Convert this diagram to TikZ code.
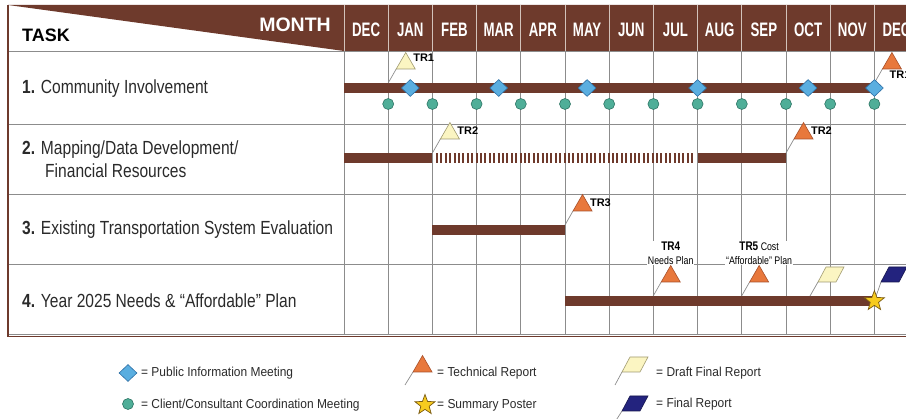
\documentclass[tikz,border=0pt]{standalone}
\usepackage{fontspec}
\setmainfont{Liberation Sans}
\newfontfamily\taskfont[FakeStretch=0.82]{Liberation Sans}
\newfontfamily\monthfont[FakeStretch=0.68]{Liberation Sans}
\newfontfamily\notefont[FakeStretch=0.8]{Liberation Sans}
\newfontfamily\keyfont[FakeStretch=0.92]{Liberation Sans}
\usetikzlibrary{shapes.geometric,positioning}

\definecolor{barbrown}{HTML}{6E3A2C}
\definecolor{gridgray}{HTML}{8C8C8C}
\definecolor{headsep}{HTML}{D2C2BA}
\definecolor{pifill}{HTML}{5AAEE0}
\definecolor{piedge}{HTML}{2D6FA5}
\definecolor{ccfill}{HTML}{4FAE98}
\definecolor{ccedge}{HTML}{2E7565}
\definecolor{trfill}{HTML}{E8783C}
\definecolor{tredge}{HTML}{A8502A}
\definecolor{paleyel}{HTML}{FBF5C2}
\definecolor{paleedge}{HTML}{A09A70}
\definecolor{navyrep}{HTML}{23237E}
\definecolor{starfill}{HTML}{F7CB1E}
\definecolor{staredge}{HTML}{7A5A10}
\definecolor{inktext}{HTML}{2A2A2A}

\begin{document}
\begin{tikzpicture}[x=1pt,y=-1pt,
    gridline/.style={draw=gridgray,line width=0.9pt},
    headline/.style={draw=headsep,line width=1pt},
    taskbar/.style={draw=barbrown,line width=10pt},
    tasktext/.style={anchor=west,text=inktext,inner sep=0pt,font=\taskfont\fontsize{19}{23}\selectfont},
    monthlbl/.style={text=white,font=\monthfont\bfseries\fontsize{19.5}{20}\selectfont},
    pimeet/.style={diamond,draw=piedge,fill=pifill,line width=0.6pt,inner sep=0pt,minimum width=18pt,minimum height=17pt},
    ccmeet/.style={circle,draw=ccedge,fill=ccfill,line width=0.6pt,inner sep=0pt,minimum size=11pt},
    techrep/.style={regular polygon,regular polygon sides=3,draw=tredge,fill=trfill,line width=0.6pt,inner sep=0pt,outer sep=0pt,minimum size=22pt},
    techdraft/.style={techrep,draw=paleedge,fill=paleyel},
    draftflag/.style={draw=paleedge,fill=paleyel,line width=0.6pt},
    finalflag/.style={draw=navyrep!60!black,fill=navyrep,line width=0.6pt},
    poster/.style={star,star points=5,star point ratio=2.4,draw=staredge,fill=starfill,line width=0.7pt,inner sep=0pt,minimum size=21pt},
    pole/.style={draw=gridgray,line width=0.7pt},
    trlabel/.style={inner sep=1pt,font=\bfseries\fontsize{11}{11}\selectfont},
    notebox/.style={fill=white,inner sep=1pt,align=center,font=\notefont\fontsize{11}{14}\selectfont},
    keytext/.style={anchor=west,text=inktext,inner sep=0pt,font=\keyfont\fontsize{13}{15}\selectfont}]
  \useasboundingbox (0,0) rectangle (906,419);

  % header band
  \fill[barbrown] (8,5) -- (906,5) -- (906,51) -- (344,51) -- cycle;
  \node[anchor=west,inner sep=0pt,font=\bfseries\fontsize{18}{18}\selectfont] (task) at (22,35) {TASK};
  \node[anchor=east,inner sep=0pt,text=white,font=\bfseries\fontsize{19.5}{20}\selectfont] (month) at (331,25) {MONTH};
  \foreach \m [count=\i from 0] in {DEC,JAN,FEB,MAR,APR,MAY,JUN,JUL,AUG,SEP,OCT,NOV,DEC}
    \node[monthlbl] (m\i) at ({366.1+44.2*\i},30) {\m};
  \foreach \i in {0,...,12}
    \draw[headline] ({344+44.2*\i},5) -- ({344+44.2*\i},51);

  % grid
  \foreach \i in {0,...,12}
    \draw[gridline] ({344+44.2*\i},51) -- ({344+44.2*\i},334);
  \foreach \y in {51,124,194,264,334}
    \draw[gridline] (8,\y) -- (906,\y);
  \draw[barbrown,line width=1.2pt] (8,336.5) -- (906,336.5);
  \draw[barbrown,line width=1.5pt] (8,5) -- (8,337);

  % task names
  \node[tasktext] (t1) at (22,89) {\textbf{1.} Community Involvement};
  \node[tasktext,align=left] (t2) at (22,159) {\textbf{2.} Mapping/Data Development/\\\hspace*{23pt}Financial Resources};
  \node[tasktext] (t3) at (22,230) {\textbf{3.} Existing Transportation System Evaluation};
  \node[tasktext] (t4) at (22,301) {\textbf{4.} Year 2025 Needs \& “Affordable” Plan};

  % 1. community involvement
  \draw[taskbar] (344,88) -- (874,88);
  \coordinate (p1a) at (388.2,83);
  \coordinate (p1b) at (874.4,83);
  \draw[pole] (p1a) -- ++(8,-14);
  \draw[pole] (p1b) -- ++(8,-14);
  \node[techdraft,anchor=corner 2,label={[trlabel,yshift=6pt]right:TR1}] (tr1a) at ([shift={(8,-14)}]p1a) {};
  \node[techrep,anchor=corner 2,label={[trlabel,xshift=-9pt,yshift=-1pt]below right:TR1}] (tr1b) at ([shift={(8,-14)}]p1b) {};
  \foreach \x [count=\k] in {410.3,498.7,587.1,697.6,808.1,874.4}
    \node[pimeet] (pim\k) at (\x,88) {};
  \foreach \i in {1,...,12}
    \node[ccmeet] (ccm\i) at ({344+44.2*\i},104) {};

  % 2. mapping / data development
  \draw[taskbar] (344,158) -- (432.4,158);
  \draw[taskbar,dash pattern=on 2pt off 2.4pt] (436,158) -- (695,158);
  \draw[taskbar] (697.6,158) -- (786,158);
  \coordinate (p2a) at (432.4,153);
  \coordinate (p2b) at (786,153);
  \draw[pole] (p2a) -- ++(8,-14);
  \draw[pole] (p2b) -- ++(8,-14);
  \node[techdraft,anchor=corner 2,label={[trlabel,yshift=3pt]right:TR2}] (tr2a) at ([shift={(8,-14)}]p2a) {};
  \node[techrep,anchor=corner 2,label={[trlabel,yshift=3pt]right:TR2}] (tr2b) at ([shift={(8,-14)}]p2b) {};

  % 3. existing system evaluation
  \draw[taskbar] (432.4,230) -- (565,230);
  \coordinate (p3) at (565,225);
  \draw[pole] (p3) -- ++(8,-14);
  \node[techrep,anchor=corner 2,label={[trlabel,yshift=3pt]right:TR3}] (tr3) at ([shift={(8,-14)}]p3) {};

  % 4. needs and affordable plan
  \draw[taskbar] (565,301) -- (874,301);
  \coordinate (p4a) at (653.2,296);
  \coordinate (p4b) at (741.6,296);
  \coordinate (p4c) at (810,296);
  \coordinate (p4d) at (874.4,301);
  \coordinate (d4) at (818,282);
  \coordinate (f4) at (881,282);
  \draw[pole] (p4a) -- ++(8,-14);
  \draw[pole] (p4b) -- ++(8,-14);
  \draw[pole] (p4c) -- (d4);
  \draw[pole] (p4d) -- (f4);
  \node[techrep,anchor=corner 2] (tr4) at ([shift={(8,-14)}]p4a) {};
  \node[techrep,anchor=corner 2] (tr5) at ([shift={(8,-14)}]p4b) {};
  \node[notebox,above=0pt of tr4] (n4) {{\bfseries\fontsize{12.5}{14}\selectfont TR4}\\Needs Plan};
  \node[notebox,above=0pt of tr5] (n5) {{\bfseries\fontsize{12.5}{14}\selectfont TR5} Cost\\“Affordable” Plan};
  \draw[draftflag] (d4) -- ++(8,-15) -- ++(18,0) -- ++(-8,15) -- cycle;
  \draw[finalflag] (f4) -- ++(8,-15) -- ++(18,0) -- ++(-8,15) -- cycle;
  \node[poster] (sp) at (p4d) {};

  % legend
  \node[pimeet] (k1) at (128,373) {};
  \node[keytext] (k1t) at (141,373) {= Public Information Meeting};
  \node[ccmeet] (k2) at (128,404) {};
  \node[keytext] (k2t) at (141,405) {= Client/Consultant Coordination Meeting};
  \coordinate (k3p) at (405,385);
  \draw[pole] (k3p) -- ++(8,-13);
  \node[techrep,anchor=corner 2] (k3) at ([shift={(8,-13)}]k3p) {};
  \node[keytext] (k3t) at (437,373) {= Technical Report};
  \node[poster] (k4) at (425,405) {};
  \node[keytext] (k4t) at (437,405) {= Summary Poster};
  \coordinate (k5p) at (615,385);
  \coordinate (k5) at (622,372);
  \draw[pole] (k5p) -- (k5);
  \draw[draftflag] (k5) -- ++(8,-15) -- ++(18,0) -- ++(-8,15) -- cycle;
  \node[keytext] (k5t) at (656,373) {= Draft Final Report};
  \coordinate (k6p) at (615,422);
  \coordinate (k6) at (622,411);
  \draw[pole] (k6p) -- (k6);
  \draw[finalflag] (k6) -- ++(8,-15) -- ++(18,0) -- ++(-8,15) -- cycle;
  \node[keytext] (k6t) at (656,404) {= Final Report};
\end{tikzpicture}
\end{document}
